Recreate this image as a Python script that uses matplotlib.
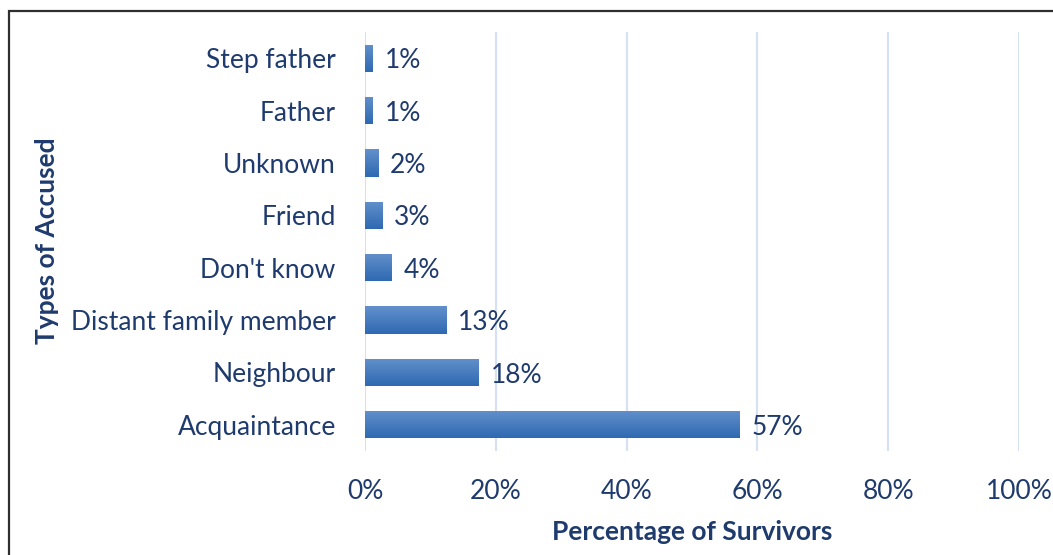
import numpy as np
import matplotlib
matplotlib.use("Agg")
import matplotlib.pyplot as plt
from matplotlib.patches import Rectangle
from matplotlib.colors import LinearSegmentedColormap

# data (bottom to top)
categories = ["Acquaintance", "Neighbour", "Distant family member", "Don't know",
              "Friend", "Unknown", "Father", "Step father"]
values = [57.3, 17.4, 12.4, 4.1, 2.6, 2.0, 1.2, 1.2]
labels = ["57%", "18%", "13%", "4%", "3%", "2%", "1%", "1%"]
xticks = [0, 20, 40, 60, 80, 100]

text_col = "#1f3b6e"
plt.rcParams['font.family'] = ['Lato', 'DejaVu Sans']

fig = plt.figure(figsize=(10.53, 5.55), dpi=100)
ax = fig.add_axes([0.3466, 0.1874, 0.6211, 0.7549])

# vertical gradient for the bars, lighter on top
cmap = LinearSegmentedColormap.from_list("bar", ["#2e69b1", "#6390cc"])
grad = np.linspace(0, 1, 100).reshape(-1, 1)
bars = ax.barh(range(len(categories)), values, height=0.52, color="none", edgecolor="none", zorder=3)
for b in bars:
    x0, y0 = b.get_x(), b.get_y()
    im = ax.imshow(grad, cmap=cmap, aspect="auto", origin="lower",
                   extent=[x0, x0 + b.get_width(), y0, y0 + b.get_height()], zorder=3)
    im.set_clip_path(b)

for i, (v, lab) in enumerate(zip(values, labels)):
    ax.text(v + 1.8, i - 0.05, lab, va="center", ha="left", fontsize=19, color=text_col)

ax.set_xlim(0, 100)
ax.set_ylim(-0.5, len(categories) - 0.5)
ax.set_xticks(xticks)
ax.set_xticklabels([f"{t}%" for t in xticks])
ax.set_yticks(range(len(categories)))
ax.set_yticklabels(categories)
ax.tick_params(axis="both", length=0, labelsize=19, labelcolor=text_col)
ax.tick_params(axis="x", pad=20)
ax.tick_params(axis="y", pad=21)
ax.grid(axis="x", color="#d5e1f2", linewidth=1.5, zorder=0)
ax.set_axisbelow(True)
for s in ax.spines.values():
    s.set_visible(False)

ax.set_xlabel("Percentage of Survivors", fontsize=19, fontweight="bold", color=text_col, labelpad=12)
fig.text(0.045, 0.566, "Types of Accused", rotation=90, ha="center", va="center",
         fontsize=19, fontweight="bold", color=text_col)

# frame around the figure, cut at right and bottom
fig.patches.append(Rectangle((9 / 1053, -0.2), 1.3, 1.2 - 11 / 555,
                             transform=fig.transFigure, fill=False,
                             edgecolor="#2f2f2f", linewidth=1.6))

fig.savefig("out.png", dpi=100)
